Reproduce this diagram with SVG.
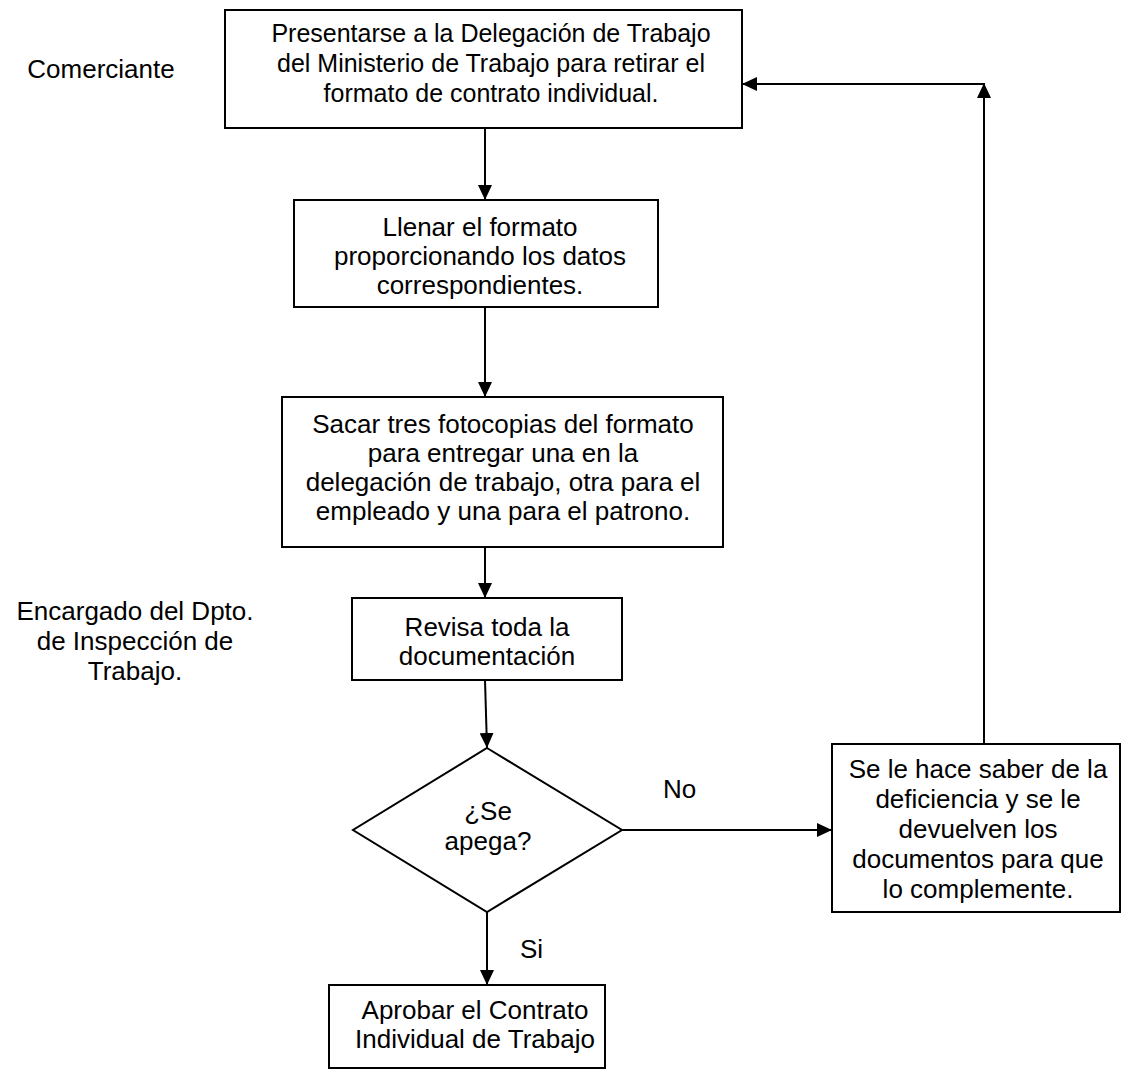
<svg xmlns="http://www.w3.org/2000/svg" width="1121" height="1072" viewBox="0 0 1121 1072">
  <style>
    .box { fill: #ffffff; stroke: #000000; stroke-width: 2; }
    .edge { fill: none; stroke: #000000; stroke-width: 2; }
    text { font-family: "Liberation Sans", Arial, sans-serif; font-size: 26px; fill: #000000; }
    .c { text-anchor: middle; }
    .s25 { font-size: 25px; }
  </style>
  <defs>
    <marker id="arrow" viewBox="0 0 15 14" refX="15" refY="7" markerWidth="15" markerHeight="14" markerUnits="userSpaceOnUse" orient="auto">
      <path d="M0,0 L15,7 L0,14 z" fill="#000000"/>
    </marker>
  </defs>
  <rect width="1121" height="1072" fill="#ffffff"/>

  <!-- role labels -->
  <g id="lane-comerciante">
    <text x="101" y="78" class="c">Comerciante</text>
  </g>
  <g id="lane-encargado">
    <text x="135" y="620" class="c">Encargado del Dpto.</text>
    <text x="135" y="650" class="c">de Inspección de</text>
    <text x="135" y="680" class="c">Trabajo.</text>
  </g>

  <!-- connectors -->
  <g id="connectors">
    <line class="edge" x1="485" y1="128" x2="485" y2="200" marker-end="url(#arrow)"/>
    <line class="edge" x1="485" y1="307" x2="485" y2="397" marker-end="url(#arrow)"/>
    <line class="edge" x1="485" y1="547" x2="485" y2="598" marker-end="url(#arrow)"/>
    <line class="edge" x1="485" y1="680" x2="487" y2="748" marker-end="url(#arrow)"/>
    <line class="edge" x1="622" y1="830" x2="832" y2="830" marker-end="url(#arrow)"/>
    <line class="edge" x1="487" y1="912" x2="487" y2="985" marker-end="url(#arrow)"/>
    <line class="edge" x1="984" y1="744" x2="984" y2="83" marker-end="url(#arrow)"/>
    <line class="edge" x1="984" y1="84" x2="742" y2="84" marker-end="url(#arrow)"/>
    <text x="663" y="798">No</text>
    <text x="520" y="958">Si</text>
  </g>

  <g id="n1">
    <rect class="box" x="225" y="10" width="517" height="118"/>
    <text x="491" y="42" class="c s25">Presentarse a la Delegación de Trabajo</text>
    <text x="491" y="72" class="c s25">del Ministerio de Trabajo para retirar el</text>
    <text x="491" y="102" class="c s25">formato de contrato individual.</text>
  </g>

  <g id="n2">
    <rect class="box" x="294" y="200" width="364" height="107"/>
    <text x="480" y="236" class="c">Llenar el formato</text>
    <text x="480" y="265" class="c">proporcionando los datos</text>
    <text x="480" y="294" class="c">correspondientes.</text>
  </g>

  <g id="n3">
    <rect class="box" x="282" y="397" width="441" height="150"/>
    <text x="503" y="433" class="c">Sacar tres fotocopias del formato</text>
    <text x="503" y="462" class="c">para entregar una en la</text>
    <text x="503" y="491" class="c">delegación de trabajo, otra para el</text>
    <text x="503" y="520" class="c">empleado y una para el patrono.</text>
  </g>

  <g id="n4">
    <rect class="box" x="352" y="598" width="270" height="82"/>
    <text x="487" y="636" class="c">Revisa toda la</text>
    <text x="487" y="665" class="c">documentación</text>
  </g>

  <g id="n5">
    <polygon class="box" points="487,748 622,830 487,912 353,830"/>
    <text x="488" y="820" class="c">¿Se</text>
    <text x="488" y="850" class="c">apega?</text>
  </g>

  <g id="n6">
    <rect class="box" x="832" y="744" width="288" height="168"/>
    <text x="978" y="778" class="c">Se le hace saber de la</text>
    <text x="978" y="808" class="c">deficiencia y se le</text>
    <text x="978" y="838" class="c">devuelven los</text>
    <text x="978" y="868" class="c">documentos para que</text>
    <text x="978" y="898" class="c">lo complemente.</text>
  </g>

  <g id="n7">
    <rect class="box" x="329" y="985" width="276" height="83"/>
    <text x="475" y="1019" class="c">Aprobar el Contrato</text>
    <text x="475" y="1048" class="c">Individual de Trabajo</text>
  </g>
</svg>
